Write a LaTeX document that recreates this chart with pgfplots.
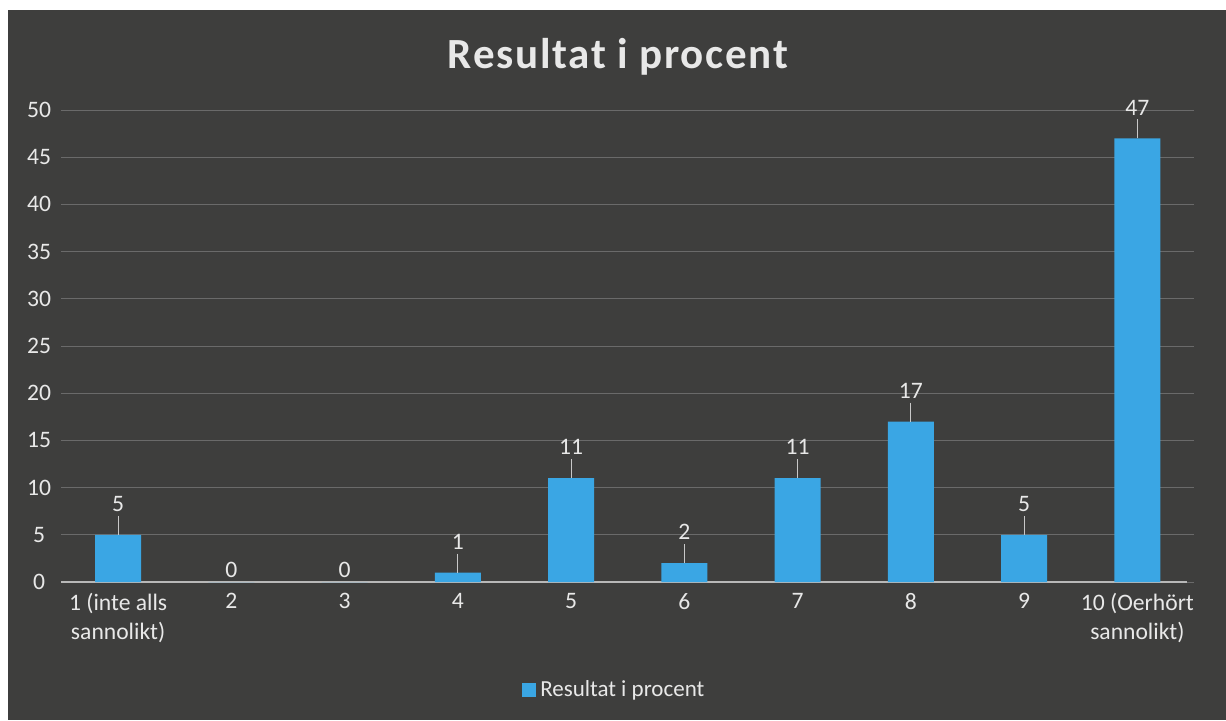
\documentclass[border=0pt]{standalone}
\usepackage{pgfplots}
\pgfplotsset{compat=1.18}
\usepackage{fontspec}
\setmainfont{Carlito}
\definecolor{bg}{HTML}{3E3E3D}
\definecolor{barblue}{HTML}{3AA6E4}
\definecolor{txt}{HTML}{E8E8E8}
\definecolor{gridc}{HTML}{6A6A6A}
\definecolor{axc}{HTML}{B8B8B8}
\definecolor{errc}{HTML}{C8C8C8}
\begin{document}
\begin{tikzpicture}
\fill[white] (0,0) rectangle (613pt,360pt);
\fill[bg] (4pt,0) rectangle (613pt,355pt);
\node[text=txt, font=\fontsize{21.5}{24}\selectfont\bfseries\addfontfeature{LetterSpace=4}] at (309pt,331.5pt) {Resultat i procent};
\begin{axis}[
  at={(30.75pt,69pt)}, anchor=south west,
  scale only axis, width=566.25pt, height=236pt,
  xmin=-0.5, xmax=9.5, ymin=0, ymax=50,
  ytick={0,5,...,50},
  xtick={0,...,9},
  xticklabels={{1 (inte alls\\sannolikt)},2,3,4,5,6,7,8,9,{10 (Oerhört\\sannolikt)}},
  /pgf/number format/assume math mode=true,
  ticklabel style={text=txt, font=\fontsize{11.8}{14.5}\selectfont},
  xticklabel style={align=center, yshift=-2pt},
  yticklabel style={anchor=center, xshift=-11.25pt},
  major tick length=0pt,
  axis line style={draw=none},
  ymajorgrids, grid style={gridc, line width=0.5pt},
  clip=false,
  legend style={at={(0.489,-0.229)}, anchor=center, draw=none, fill=none, text=txt, font=\fontsize{11.5}{13}\selectfont},
  legend image code/.code={\fill[barblue] (0pt,-3.5pt) rectangle (7pt,3.5pt);},
]
\draw[axc, line width=0.6pt] (axis cs:-0.5,0) -- (axis cs:9.44,0);
\addplot[ybar, bar width=23pt, fill=barblue, draw=none,
  error bars/.cd, y dir=plus, y explicit, error mark=none,
  error bar style={errc, line width=0.6pt}]
  coordinates {
  (0,5) +- (0,2)
  (1,0) +- (0,0)
  (2,0) +- (0,0)
  (3,1) +- (0,2)
  (4,11) +- (0,2)
  (5,2) +- (0,2)
  (6,11) +- (0,2)
  (7,17) +- (0,2)
  (8,5) +- (0,2)
  (9,47) +- (0,2)
  };
\addlegendentry{Resultat i procent}
\addplot[draw=none, mark=none, forget plot, nodes near coords, point meta=explicit symbolic,
  nodes near coords style={text=txt, font=\fontsize{11.8}{13}\selectfont, anchor=south, inner sep=2pt}]
  coordinates {
  (0,7) [5]
  (1,0) [0]
  (2,0) [0]
  (3,3) [1]
  (4,13) [11]
  (5,4) [2]
  (6,13) [11]
  (7,19) [17]
  (8,7) [5]
  (9,49) [47]
  };
\end{axis}
\end{tikzpicture}
\end{document}
